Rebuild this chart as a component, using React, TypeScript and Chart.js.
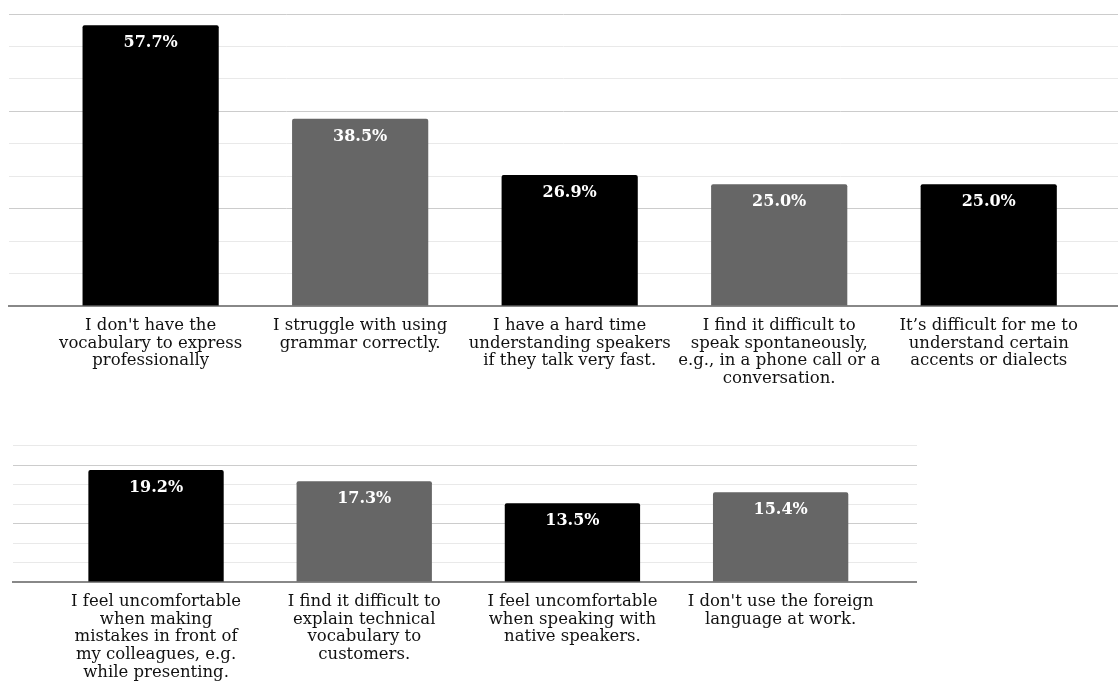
import React, { useEffect, useRef } from 'react';
import { Chart, registerables } from 'chart.js';

Chart.register(...registerables);

// ---------- data ----------
const topCategories: string[][] = [
  ["I don't have the", 'vocabulary to express', 'professionally'],
  ['I struggle with using', 'grammar correctly.'],
  ['I have a hard time', 'understanding speakers', 'if they talk very fast.'],
  ['I find it difficult to', 'speak spontaneously,', 'e.g., in a phone call or a', 'conversation.'],
  ['It\u2019s difficult for me to', 'understand certain', 'accents or dialects'],
];
const topValues: number[] = [57.7, 38.5, 26.9, 25.0, 25.0];
const topColors: string[] = ['#000000', '#666666', '#000000', '#666666', '#000000'];

const bottomCategories: string[][] = [
  ['I feel uncomfortable', 'when making', 'mistakes in front of', 'my colleagues, e.g.', 'while presenting.'],
  ['I find it difficult to', 'explain technical', 'vocabulary to', 'customers.'],
  ['I feel uncomfortable', 'when speaking with', 'native speakers.'],
  ["I don't use the foreign", 'language at work.'],
];
const bottomValues: number[] = [19.2, 17.3, 13.5, 15.4];
const bottomColors: string[] = ['#000000', '#666666', '#000000', '#666666'];

const FONT = '"DejaVu Serif", Georgia, serif';

const valueLabelPlugin = {
  id: 'valueLabels',
  afterDatasetsDraw(chart: any) {
    const { ctx } = chart;
    const meta = chart.getDatasetMeta(0);
    const ds = chart.data.datasets[0];
    ctx.save();
    ctx.font = `bold 16px ${FONT}`;
    ctx.fillStyle = '#ffffff';
    ctx.textAlign = 'center';
    ctx.textBaseline = 'middle';
    meta.data.forEach((bar: any, i: number) => {
      const v = ds.data[i].y as number;
      ctx.fillText(v.toFixed(1) + '%', bar.x, bar.y + 18);
    });
    ctx.restore();
  },
};

type PanelProps = {
  categories: string[][];
  values: number[];
  colors: string[];
  yMax: number;
  yStep: number;
  xMin: number;
  xMax: number;
  left: number;
  top: number;
  width: number;
  height: number;
  padLeft: number;
  padTop: number;
  axisHeight: number;
};

function BarPanel(p: PanelProps) {
  const ref = useRef<HTMLCanvasElement | null>(null);
  useEffect(() => {
    if (!ref.current) return;
    const nTicks = Math.round(p.yMax / p.yStep);
    const chart = new Chart(ref.current, {
      type: 'bar',
      data: {
        datasets: [
          {
            data: p.values.map((v, i) => ({ x: i, y: v })),
            backgroundColor: p.colors,
            borderRadius: 2,
            borderSkipped: 'start',
            categoryPercentage: 1,
            barPercentage: 0.65,
          },
        ],
      },
      options: {
        responsive: false,
        animation: false,
        events: [],
        layout: { padding: { left: p.padLeft, top: p.padTop, right: 0, bottom: 0 } },
        plugins: { legend: { display: false }, tooltip: { enabled: false } },
        scales: {
          x: {
            type: 'linear',
            offset: false,
            min: p.xMin,
            max: p.xMax,
            afterBuildTicks: (scale: any) => {
              scale.ticks = p.categories.map((_, i) => ({ value: i }));
            },
            afterFit: (scale: any) => {
              scale.height = p.axisHeight;
            },
            grid: { display: false, drawTicks: false, offset: false },
            border: { display: true, color: '#888888', width: 2 },
            ticks: {
              autoSkip: false,
              maxRotation: 0,
              minRotation: 0,
              padding: 11,
              color: '#111111',
              font: { family: FONT, size: 16.5, lineHeight: 1.07 },
              callback: (value: any) => p.categories[Math.round(Number(value))] ?? '',
            },
          },
          y: {
            min: 0,
            max: p.yMax,
            afterBuildTicks: (scale: any) => {
              const t = [];
              for (let i = 0; i <= nTicks; i++) t.push({ value: i * p.yStep });
              scale.ticks = t;
            },
            ticks: { display: false },
            border: { display: false },
            grid: {
              drawTicks: false,
              lineWidth: 1,
              color: (ctx: any) =>
                ctx.index === 0 ? 'rgba(0,0,0,0)' : ctx.index % 3 === 0 ? '#cccccc' : '#e9e9e9',
            },
          },
        },
      } as any,
      plugins: [valueLabelPlugin],
    });
    return () => chart.destroy();
  }, []);
  return (
    <div style={{ position: 'absolute', left: p.left, top: p.top, width: p.width, height: p.height }}>
      <canvas ref={ref} width={p.width} height={p.height} style={{ display: 'block' }} />
    </div>
  );
}

export default function App() {
  return (
    <div style={{ position: 'absolute', left: 0, top: 0, width: 1118, height: 691, overflow: 'hidden', background: '#ffffff' }}>
      <BarPanel
        categories={topCategories}
        values={topValues}
        colors={topColors}
        yMax={60}
        yStep={20 / 3}
        xMin={-0.676}
        xMax={4.617}
        left={0}
        top={0}
        width={1118}
        height={406}
        padLeft={9}
        padTop={14}
        axisHeight={100}
      />
      <BarPanel
        categories={bottomCategories}
        values={bottomValues}
        colors={bottomColors}
        yMax={70 / 3}
        yStep={10 / 3}
        xMin={-0.687}
        xMax={3.655}
        left={0}
        top={430}
        width={917}
        height={257}
        padLeft={13}
        padTop={16}
        axisHeight={105}
      />
    </div>
  );
}
